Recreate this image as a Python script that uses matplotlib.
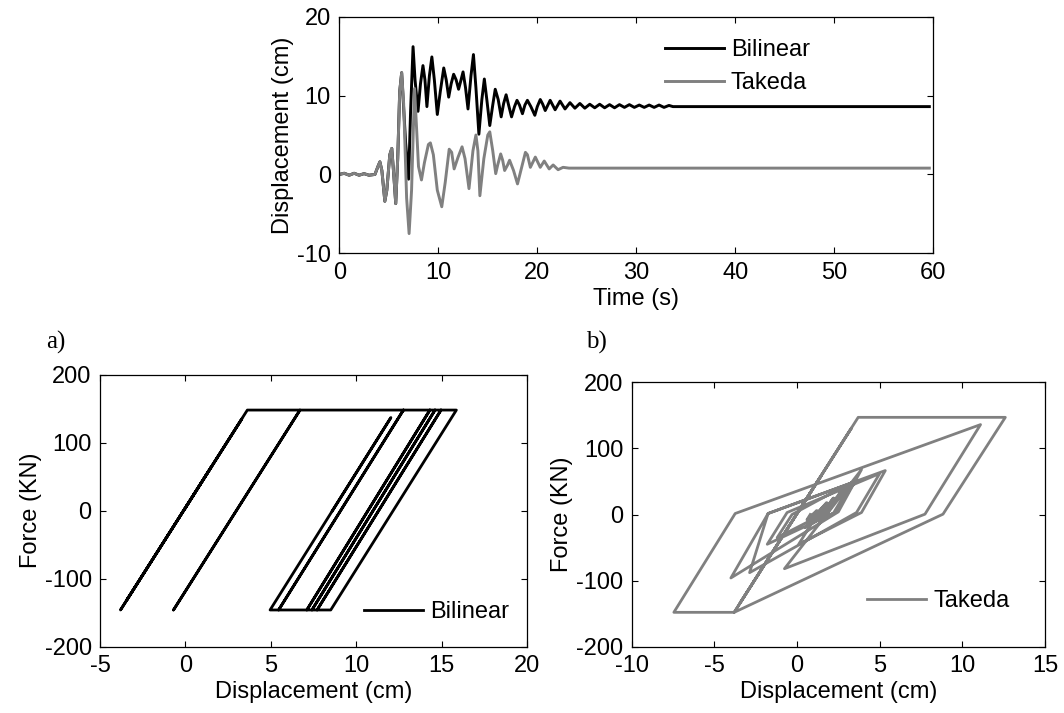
import matplotlib
matplotlib.use("Agg")
import matplotlib.pyplot as plt

plt.rcParams['font.family'] = ['Liberation Sans', 'DejaVu Sans']
plt.rcParams['axes.unicode_minus'] = False

# ---------------- data: time histories ----------------
takeda_t = [0, 0.5, 1.0, 1.5, 2.0, 2.5, 3.0, 3.6, 3.9, 4.1,
            4.3, 4.6, 4.8, 5.1, 5.3, 5.5, 5.7, 5.9, 6.1, 6.3,
            6.5, 6.8, 7.05, 7.3, 7.6, 7.8, 8.0, 8.3, 8.6, 9.0,
            9.2, 9.5, 9.9, 10.35, 10.7, 11.1, 11.35, 11.6, 12.0, 12.4,
            12.7, 13.1, 13.5, 13.8, 14.0, 14.2, 14.6, 15.0, 15.2, 15.5,
            15.8, 16.0, 16.3, 16.5, 16.7, 17.0, 17.2, 17.6, 18.0, 18.4,
            18.8, 19.0, 19.3, 19.8, 20.3, 20.7, 21.2, 21.6, 22.1, 22.6,
            23.2, 59.6]
takeda_v = [0, 0.15, -0.1, 0.15, -0.1, 0.1, -0.1, 0.0, 1.0, 1.6,
            0.5, -3.4, -2.0, 2.5, 3.3, 0.0, -3.7, 2.0, 10.5, 12.9,
            9.0, -3.0, -7.5, -2.0, 10.9, 6.0, 1.0, -0.7, 1.5, 3.8,
            4.0, 2.5, -2.0, -4.1, -1.0, 3.2, 2.8, 0.7, 2.2, 3.5,
            2.0, -1.8, 3.0, 5.0, 3.0, -2.7, 2.0, 5.0, 5.4, 3.0,
            0.1, 1.2, 2.6, 1.8, 0.5, 1.2, 1.8, 0.5, -1.2, 0.8,
            2.8, 2.5, 0.9, 2.2, 0.9, 1.7, 0.7, 1.2, 0.6, 0.9,
            0.8, 0.8]

bilinear_t = [0, 0.5, 1.0, 1.5, 2.0, 2.5, 3.0, 3.6, 3.9, 4.1,
              4.3, 4.6, 4.8, 5.1, 5.3, 5.5, 5.7, 5.9, 6.1, 6.3,
              6.7, 7.0, 7.2, 7.45, 7.65, 7.95, 8.2, 8.45, 8.65, 8.85,
              9.1, 9.35, 9.6, 9.9, 10.2, 10.55, 10.8, 11.05, 11.3, 11.55,
              11.8, 12.05, 12.3, 12.5, 12.75, 13.0, 13.3, 13.55, 13.8, 14.1,
              14.4, 14.65, 14.9, 15.2, 15.5, 15.75, 16.05, 16.35, 16.6, 16.85,
              17.1, 17.4, 17.7, 17.95, 18.2, 18.5, 18.75, 19.0, 19.35, 19.75,
              20.0, 20.3, 20.55, 20.8, 21.3, 21.8, 22.3, 22.8, 23.3, 23.8,
              24.3, 24.8, 25.3, 25.8, 26.3, 26.8, 27.3, 27.8, 28.3, 28.8,
              29.3, 29.8, 30.3, 30.8, 31.3, 31.8, 32.3, 32.8, 33.3, 33.7,
              59.6]
bilinear_v = [0, 0.15, -0.1, 0.15, -0.1, 0.1, -0.1, 0.0, 1.0, 1.6,
              0.5, -3.4, -2.0, 2.5, 3.3, 0.0, -3.7, 2.0, 10.5, 12.9,
              4.0, -0.6, 8.0, 16.2, 12.0, 8.0, 11.5, 13.8, 12.0, 8.6,
              12.5, 14.9, 12.0, 7.6, 10.5, 13.5, 12.0, 9.8, 11.5, 12.7,
              12.0, 10.8, 12.0, 13.0, 11.0, 8.3, 12.5, 15.2, 11.0, 5.1,
              9.5, 12.1, 9.5, 6.2, 8.8, 10.8, 9.5, 7.3, 9.0, 10.1,
              8.8, 7.3, 8.6, 9.4, 8.8, 7.7, 8.8, 9.4, 8.6, 7.5,
              8.6, 9.5, 8.9, 8.1, 9.4, 8.2, 9.3, 8.3, 9.1, 8.4,
              9.0, 8.4, 8.9, 8.45, 8.9, 8.45, 8.85, 8.45, 8.85, 8.5,
              8.85, 8.5, 8.8, 8.5, 8.8, 8.5, 8.8, 8.5, 8.75, 8.6,
              8.6]

# ---------------- data: hysteresis loops ----------------
bil_disp = [0, 1.5, -3.45, 3.3, -3.8, 3.62, 6.7, -0.7, 6.7, 15.85, 8.5, 7.7, 14.95,
            7.7, 7.4, 14.6, 7.4, 7.1, 14.3, 7.1, 5.45, 12.75, 5.45, 4.95, 12.02, 8.6]
bil_force = [4, 64, -132, 135, -146, 148, 148, -146, 148, 148, -146, -146, 148,
             -146, -146, 148, -146, -146, 148, -146, -146, 148, -146, -146, 137, 0]

tak_disp = [0, 1.5, -3.45, 3.3, -3.8, 3.7, 12.6, 8.83, -3.8, -7.45, -3.74, 11.1, 7.74,
            -0.76, 3.9, 2.5, -4.0, -1.75, 3.3, 2.2, 0.7, 1.5, 3.5, 2.3, -1.8, -0.6,
            5.0, 3.6, -2.87, -1.75, 5.34, 3.9, 0.1, 1.3, 2.6, 1.6, 0.5, 1.2, 1.8,
            0.9, -1.2, -0.3, 2.8, 1.8, 0.9, 1.5, 2.2, 1.4, 0.9, 1.3, 1.7, 1.1, 0.7,
            1.0, 1.2, 0.8, 0.6, 0.8]
tak_force = [1.5, 60, -134, 131, -148, 147, 147, 0.5, -148, -148, 1.5, 136, 0.5,
             -82, 68, 4, -96, 1.5, 48, 2, -14, 2, 50, 3, -45, 3,
             62, 3, -88, 1.5, 66.5, 3, -45, 3, 30, -2, -20, 2, 18,
             -8, -35, 0, 42, 0, -14, 1, 25, -3, -12, 0, 12, -6, -12,
             0, 6, -3, -8, 0]

# ---------------- labels / ticks ----------------
time_xticks = [0, 10, 20, 30, 40, 50, 60]
time_yticks = [-10, 0, 10, 20]
force_yticks = [-200, -100, 0, 100, 200]
bil_xticks = [-5, 0, 5, 10, 15, 20]
tak_xticks = [-10, -5, 0, 5, 10, 15]

FS = 17
BLACK = '#000000'
GRAY = '#808080'

W, H = 1064, 713
fig = plt.figure(figsize=(W / 100, H / 100), dpi=100)


def box(x0, x1, y0, y1):
    return [x0 / W, 1 - y1 / H, (x1 - x0) / W, (y1 - y0) / H]


def style(ax):
    ax.tick_params(direction='in', top=True, right=True, length=4, width=0.8,
                   labelsize=FS)
    ax.tick_params(axis='x', pad=6)
    ax.tick_params(axis='y', pad=6)
    for s in ax.spines.values():
        s.set_linewidth(0.9)
        s.set_color('black')


# top: time history
ax1 = fig.add_axes(box(339.3, 933.3, 16.7, 253.3))
ax1.plot(bilinear_t, bilinear_v, color=BLACK, lw=2.1, label='Bilinear')
ax1.plot(takeda_t, takeda_v, color=GRAY, lw=2.1, label='Takeda')
ax1.set_xlim(0, 60)
ax1.set_ylim(-10, 20)
ax1.set_xticks(time_xticks)
ax1.set_yticks(time_yticks)
ax1.set_xlabel('Time (s)', fontsize=FS, labelpad=3)
ax1.set_ylabel('Displacement (cm)', fontsize=FS, labelpad=2)
style(ax1)
ax1.legend(loc='upper left', bbox_to_anchor=(0.548, 0.905), frameon=False,
           fontsize=FS, handlelength=2.5, handletextpad=0.3, labelspacing=0.45,
           borderpad=0, borderaxespad=0)

# bottom left: bilinear hysteresis
ax2 = fig.add_axes(box(100, 527.3, 374.7, 646.7))
ax2.plot(bil_disp, bil_force, color=BLACK, lw=2.0, label='Bilinear')
ax2.set_xlim(-5, 20)
ax2.set_ylim(-200, 200)
ax2.set_xticks(bil_xticks)
ax2.set_yticks(force_yticks)
ax2.set_xlabel('Displacement (cm)', fontsize=FS, labelpad=3)
ax2.set_ylabel('Force (KN)', fontsize=FS, labelpad=2)
style(ax2)
ax2.legend(loc='upper left', bbox_to_anchor=(0.617, 0.168), frameon=False,
           fontsize=FS, handlelength=2.5, handletextpad=0.3,
           borderpad=0, borderaxespad=0)

# bottom right: Takeda hysteresis
ax3 = fig.add_axes(box(631.7, 1045, 382.3, 646.7))
ax3.plot(tak_disp, tak_force, color=GRAY, lw=2.0, label='Takeda')
ax3.set_xlim(-10, 15)
ax3.set_ylim(-200, 200)
ax3.set_xticks(tak_xticks)
ax3.set_yticks(force_yticks)
ax3.set_xlabel('Displacement (cm)', fontsize=FS, labelpad=3)
ax3.set_ylabel('Force (KN)', fontsize=FS, labelpad=2)
style(ax3)
ax3.legend(loc='upper left', bbox_to_anchor=(0.570, 0.213), frameon=False,
           fontsize=FS, handlelength=2.5, handletextpad=0.3,
           borderpad=0, borderaxespad=0)

# panel letters
fig.text(46 / W, 1 - 342 / H, 'a)', fontsize=18, family=['Liberation Serif'],
         ha='left', va='center')
fig.text(586 / W, 1 - 342 / H, 'b)', fontsize=18, family=['Liberation Serif'],
         ha='left', va='center')

fig.savefig('out.png', dpi=100)
